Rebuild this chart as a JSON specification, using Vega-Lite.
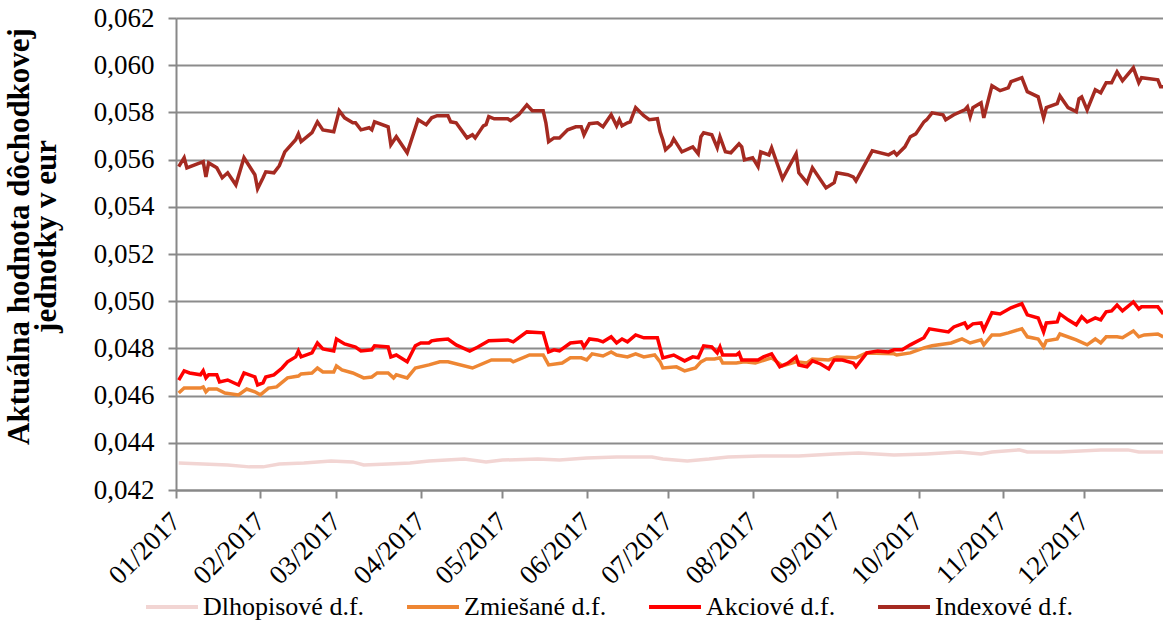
{
  "$schema": "https://vega.github.io/schema/vega-lite/v6.json",
  "width": 990,
  "height": 472,
  "autosize": {"type": "none"},
  "padding": {"left": 176, "top": 18, "right": 0, "bottom": 138},
  "config": {"view": {"stroke": null}, "font": "Liberation Serif"},
  "datasets": {
    "dlh": [
      {"d":"2017-01-02","v":0.04314},{"d":"2017-01-11","v":0.0431},{"d":"2017-01-20","v":0.04306},{"d":"2017-01-28","v":0.04298},{"d":"2017-02-02","v":0.04298},{"d":"2017-02-08","v":0.0431},{"d":"2017-02-17","v":0.04314},{"d":"2017-02-27","v":0.04323},{"d":"2017-03-07","v":0.04319},{"d":"2017-03-11","v":0.04306},{"d":"2017-03-20","v":0.0431},{"d":"2017-03-28","v":0.04314},{"d":"2017-04-04","v":0.04323},{"d":"2017-04-17","v":0.04331},{"d":"2017-04-25","v":0.04319},{"d":"2017-05-01","v":0.04327},{"d":"2017-05-14","v":0.04331},{"d":"2017-05-22","v":0.04327},{"d":"2017-06-01","v":0.04336},{"d":"2017-06-12","v":0.0434},{"d":"2017-06-25","v":0.0434},{"d":"2017-06-29","v":0.04331},{"d":"2017-07-08","v":0.04323},{"d":"2017-07-16","v":0.04331},{"d":"2017-07-23","v":0.0434},{"d":"2017-08-04","v":0.04344},{"d":"2017-08-18","v":0.04344},{"d":"2017-08-31","v":0.04353},{"d":"2017-09-09","v":0.04357},{"d":"2017-09-22","v":0.04348},{"d":"2017-10-04","v":0.04353},{"d":"2017-10-16","v":0.04361},{"d":"2017-10-24","v":0.04353},{"d":"2017-10-28","v":0.04361},{"d":"2017-11-07","v":0.0437},{"d":"2017-11-10","v":0.04361},{"d":"2017-11-22","v":0.04361},{"d":"2017-12-07","v":0.0437},{"d":"2017-12-17","v":0.0437},{"d":"2017-12-21","v":0.04361},{"d":"2017-12-30","v":0.04361}
    ],
    "zmi": [
      {"d":"2017-01-02","v":0.04611},{"d":"2017-01-04","v":0.04632},{"d":"2017-01-10","v":0.04632},{"d":"2017-01-11","v":0.04637},{"d":"2017-01-12","v":0.04616},{"d":"2017-01-13","v":0.04628},{"d":"2017-01-16","v":0.04628},{"d":"2017-01-19","v":0.04611},{"d":"2017-01-24","v":0.04603},{"d":"2017-01-27","v":0.04628},{"d":"2017-01-30","v":0.04616},{"d":"2017-02-01","v":0.04603},{"d":"2017-02-04","v":0.04632},{"d":"2017-02-07","v":0.04637},{"d":"2017-02-11","v":0.04675},{"d":"2017-02-15","v":0.04683},{"d":"2017-02-16","v":0.04692},{"d":"2017-02-20","v":0.04696},{"d":"2017-02-22","v":0.04717},{"d":"2017-02-24","v":0.047},{"d":"2017-02-28","v":0.047},
      {"d":"2017-03-01","v":0.04726},{"d":"2017-03-03","v":0.04709},{"d":"2017-03-07","v":0.04696},{"d":"2017-03-11","v":0.04675},{"d":"2017-03-14","v":0.04679},{"d":"2017-03-16","v":0.04696},{"d":"2017-03-20","v":0.04696},{"d":"2017-03-22","v":0.04675},{"d":"2017-03-23","v":0.04688},{"d":"2017-03-27","v":0.04675},{"d":"2017-03-30","v":0.04717},{"d":"2017-04-04","v":0.0473},{"d":"2017-04-08","v":0.04743},{"d":"2017-04-11","v":0.04743},{"d":"2017-04-20","v":0.04717},{"d":"2017-04-27","v":0.04751},{"d":"2017-05-04","v":0.04751},{"d":"2017-05-05","v":0.04743},{"d":"2017-05-11","v":0.04772},{"d":"2017-05-16","v":0.04772},{"d":"2017-05-18","v":0.0473},{"d":"2017-05-23","v":0.04738},{"d":"2017-05-26","v":0.0476},{"d":"2017-05-30","v":0.0476},
      {"d":"2017-06-01","v":0.04751},{"d":"2017-06-03","v":0.04777},{"d":"2017-06-07","v":0.04768},{"d":"2017-06-10","v":0.04785},{"d":"2017-06-12","v":0.04772},{"d":"2017-06-16","v":0.04764},{"d":"2017-06-19","v":0.04777},{"d":"2017-06-22","v":0.04764},{"d":"2017-06-26","v":0.04772},{"d":"2017-06-28","v":0.04743},{"d":"2017-06-29","v":0.04717},{"d":"2017-07-04","v":0.04722},{"d":"2017-07-07","v":0.04705},{"d":"2017-07-11","v":0.04717},{"d":"2017-07-13","v":0.04743},{"d":"2017-07-15","v":0.04755},{"d":"2017-07-18","v":0.04755},{"d":"2017-07-20","v":0.0476},{"d":"2017-07-21","v":0.04738},{"d":"2017-07-26","v":0.04738},{"d":"2017-07-29","v":0.04743},
      {"d":"2017-08-02","v":0.04738},{"d":"2017-08-08","v":0.0476},{"d":"2017-08-12","v":0.04726},{"d":"2017-08-17","v":0.04743},{"d":"2017-08-21","v":0.04738},{"d":"2017-08-23","v":0.04755},{"d":"2017-08-29","v":0.04751},{"d":"2017-09-01","v":0.04764},{"d":"2017-09-08","v":0.0476},{"d":"2017-09-12","v":0.04781},{"d":"2017-09-22","v":0.04777},{"d":"2017-09-23","v":0.04772},{"d":"2017-09-28","v":0.04781},{"d":"2017-10-03","v":0.04802},{"d":"2017-10-06","v":0.04811},{"d":"2017-10-13","v":0.04823},{"d":"2017-10-17","v":0.0484},{"d":"2017-10-20","v":0.04823},{"d":"2017-10-24","v":0.04836},{"d":"2017-10-25","v":0.04815},{"d":"2017-10-28","v":0.04857},{"d":"2017-10-31","v":0.04857},
      {"d":"2017-11-03","v":0.04866},{"d":"2017-11-08","v":0.04883},{"d":"2017-11-10","v":0.04849},{"d":"2017-11-14","v":0.0484},{"d":"2017-11-16","v":0.04806},{"d":"2017-11-17","v":0.04832},{"d":"2017-11-21","v":0.0484},{"d":"2017-11-22","v":0.04861},{"d":"2017-11-28","v":0.04836},{"d":"2017-12-02","v":0.04815},{"d":"2017-12-05","v":0.0484},{"d":"2017-12-07","v":0.04823},{"d":"2017-12-09","v":0.04849},{"d":"2017-12-13","v":0.04849},{"d":"2017-12-15","v":0.04845},{"d":"2017-12-19","v":0.04874},{"d":"2017-12-21","v":0.04849},{"d":"2017-12-23","v":0.04857},{"d":"2017-12-28","v":0.04861},{"d":"2017-12-30","v":0.04849}
    ],
    "akc": [
      {"d":"2017-01-02","v":0.04666},{"d":"2017-01-04","v":0.04705},{"d":"2017-01-06","v":0.04696},{"d":"2017-01-10","v":0.04688},{"d":"2017-01-11","v":0.04705},{"d":"2017-01-12","v":0.04675},{"d":"2017-01-13","v":0.04688},{"d":"2017-01-16","v":0.04688},{"d":"2017-01-17","v":0.04658},{"d":"2017-01-20","v":0.04666},{"d":"2017-01-24","v":0.04645},{"d":"2017-01-26","v":0.04696},{"d":"2017-01-30","v":0.04679},{"d":"2017-01-31","v":0.04645},
      {"d":"2017-02-02","v":0.04654},{"d":"2017-02-03","v":0.04679},{"d":"2017-02-06","v":0.04688},{"d":"2017-02-09","v":0.04717},{"d":"2017-02-11","v":0.04743},{"d":"2017-02-14","v":0.04764},{"d":"2017-02-15","v":0.04789},{"d":"2017-02-16","v":0.04764},{"d":"2017-02-20","v":0.04781},{"d":"2017-02-22","v":0.04823},{"d":"2017-02-24","v":0.04798},{"d":"2017-02-28","v":0.04789},
      {"d":"2017-03-01","v":0.0484},{"d":"2017-03-04","v":0.04819},{"d":"2017-03-08","v":0.04806},{"d":"2017-03-10","v":0.04789},{"d":"2017-03-14","v":0.04794},{"d":"2017-03-15","v":0.04811},{"d":"2017-03-20","v":0.04806},{"d":"2017-03-21","v":0.04764},{"d":"2017-03-23","v":0.04772},{"d":"2017-03-27","v":0.04743},{"d":"2017-03-30","v":0.04811},
      {"d":"2017-04-01","v":0.04823},{"d":"2017-04-04","v":0.04823},{"d":"2017-04-05","v":0.04832},{"d":"2017-04-07","v":0.04836},{"d":"2017-04-11","v":0.0484},{"d":"2017-04-14","v":0.04815},{"d":"2017-04-19","v":0.04789},{"d":"2017-04-22","v":0.04806},{"d":"2017-04-26","v":0.04832},
      {"d":"2017-05-03","v":0.04836},{"d":"2017-05-05","v":0.04828},{"d":"2017-05-10","v":0.0487},{"d":"2017-05-16","v":0.04866},{"d":"2017-05-18","v":0.04785},{"d":"2017-05-20","v":0.04794},{"d":"2017-05-22","v":0.04789},{"d":"2017-05-26","v":0.04823},{"d":"2017-05-30","v":0.04828},{"d":"2017-05-31","v":0.04806},
      {"d":"2017-06-02","v":0.0484},{"d":"2017-06-05","v":0.04836},{"d":"2017-06-07","v":0.04828},{"d":"2017-06-10","v":0.04849},{"d":"2017-06-12","v":0.04823},{"d":"2017-06-14","v":0.0484},{"d":"2017-06-16","v":0.04828},{"d":"2017-06-19","v":0.04857},{"d":"2017-06-22","v":0.04845},{"d":"2017-06-27","v":0.04845},{"d":"2017-06-28","v":0.04802},{"d":"2017-06-29","v":0.0476},
      {"d":"2017-07-03","v":0.04772},{"d":"2017-07-07","v":0.04747},{"d":"2017-07-10","v":0.04764},{"d":"2017-07-12","v":0.0476},{"d":"2017-07-14","v":0.04811},{"d":"2017-07-17","v":0.04806},{"d":"2017-07-19","v":0.04781},{"d":"2017-07-20","v":0.04806},{"d":"2017-07-21","v":0.04772},{"d":"2017-07-26","v":0.04772},{"d":"2017-07-27","v":0.04781},{"d":"2017-07-28","v":0.04751},
      {"d":"2017-08-03","v":0.04751},{"d":"2017-08-05","v":0.04764},{"d":"2017-08-08","v":0.04777},{"d":"2017-08-11","v":0.04722},{"d":"2017-08-14","v":0.04738},{"d":"2017-08-17","v":0.04764},{"d":"2017-08-18","v":0.0473},{"d":"2017-08-21","v":0.04722},{"d":"2017-08-23","v":0.04747},{"d":"2017-08-26","v":0.04734},{"d":"2017-08-29","v":0.04713},{"d":"2017-08-31","v":0.04751},
      {"d":"2017-09-03","v":0.04751},{"d":"2017-09-07","v":0.04738},{"d":"2017-09-08","v":0.04722},{"d":"2017-09-12","v":0.04781},{"d":"2017-09-16","v":0.04789},{"d":"2017-09-20","v":0.04785},{"d":"2017-09-22","v":0.04794},{"d":"2017-09-25","v":0.04794},{"d":"2017-09-28","v":0.04815},
      {"d":"2017-10-03","v":0.04845},{"d":"2017-10-05","v":0.04883},{"d":"2017-10-12","v":0.0487},{"d":"2017-10-14","v":0.04891},{"d":"2017-10-18","v":0.04908},{"d":"2017-10-19","v":0.04887},{"d":"2017-10-21","v":0.04904},{"d":"2017-10-24","v":0.04908},{"d":"2017-10-25","v":0.04878},{"d":"2017-10-28","v":0.04951},{"d":"2017-10-31","v":0.04946},
      {"d":"2017-11-04","v":0.04972},{"d":"2017-11-08","v":0.04989},{"d":"2017-11-10","v":0.04942},{"d":"2017-11-14","v":0.04929},{"d":"2017-11-16","v":0.0487},{"d":"2017-11-17","v":0.04908},{"d":"2017-11-21","v":0.04912},{"d":"2017-11-22","v":0.04946},{"d":"2017-11-25","v":0.04921},{"d":"2017-11-28","v":0.049},{"d":"2017-11-30","v":0.04934},
      {"d":"2017-12-02","v":0.04912},{"d":"2017-12-05","v":0.04929},{"d":"2017-12-07","v":0.04921},{"d":"2017-12-09","v":0.04955},{"d":"2017-12-11","v":0.04959},{"d":"2017-12-13","v":0.04984},{"d":"2017-12-15","v":0.04959},{"d":"2017-12-19","v":0.04997},{"d":"2017-12-21","v":0.04967},{"d":"2017-12-22","v":0.04976},{"d":"2017-12-28","v":0.04976},{"d":"2017-12-30","v":0.04946}
    ],
    "idx": [
      {"d":"2017-01-02","v":0.0557},{"d":"2017-01-04","v":0.05608},{"d":"2017-01-05","v":0.05565},{"d":"2017-01-11","v":0.05591},{"d":"2017-01-12","v":0.05527},{"d":"2017-01-13","v":0.05586},{"d":"2017-01-16","v":0.05565},{"d":"2017-01-18","v":0.05523},{"d":"2017-01-20","v":0.05544},{"d":"2017-01-23","v":0.05493},{"d":"2017-01-26","v":0.05608},{"d":"2017-01-30","v":0.05536},{"d":"2017-01-31","v":0.05476},
      {"d":"2017-02-02","v":0.05523},{"d":"2017-02-03","v":0.05548},{"d":"2017-02-06","v":0.05544},{"d":"2017-02-08","v":0.05574},{"d":"2017-02-10","v":0.05633},{"d":"2017-02-14","v":0.05684},{"d":"2017-02-15","v":0.05709},{"d":"2017-02-16","v":0.05676},{"d":"2017-02-20","v":0.05714},{"d":"2017-02-22","v":0.0576},{"d":"2017-02-24","v":0.05726},{"d":"2017-02-28","v":0.05718},
      {"d":"2017-03-02","v":0.05807},{"d":"2017-03-04","v":0.05777},{"d":"2017-03-07","v":0.05756},{"d":"2017-03-08","v":0.05756},{"d":"2017-03-10","v":0.05726},{"d":"2017-03-13","v":0.05735},{"d":"2017-03-14","v":0.05726},{"d":"2017-03-15","v":0.0576},{"d":"2017-03-20","v":0.05739},{"d":"2017-03-21","v":0.05663},{"d":"2017-03-23","v":0.05697},{"d":"2017-03-27","v":0.05629},{"d":"2017-03-31","v":0.05769},
      {"d":"2017-04-03","v":0.05748},{"d":"2017-04-05","v":0.05777},{"d":"2017-04-07","v":0.05786},{"d":"2017-04-11","v":0.05786},{"d":"2017-04-12","v":0.0576},{"d":"2017-04-14","v":0.05756},{"d":"2017-04-18","v":0.05692},{"d":"2017-04-20","v":0.05705},{"d":"2017-04-21","v":0.05692},{"d":"2017-04-23","v":0.05726},{"d":"2017-04-24","v":0.05743},{"d":"2017-04-25","v":0.05748},{"d":"2017-04-26","v":0.05782},{"d":"2017-04-28","v":0.05773},
      {"d":"2017-05-03","v":0.05773},{"d":"2017-05-04","v":0.05765},{"d":"2017-05-07","v":0.0579},{"d":"2017-05-10","v":0.05832},{"d":"2017-05-12","v":0.05807},{"d":"2017-05-16","v":0.05807},{"d":"2017-05-17","v":0.05756},{"d":"2017-05-18","v":0.05676},{"d":"2017-05-20","v":0.05692},{"d":"2017-05-22","v":0.05692},{"d":"2017-05-25","v":0.05726},{"d":"2017-05-28","v":0.05739},{"d":"2017-05-30","v":0.05739},{"d":"2017-05-31","v":0.05705},
      {"d":"2017-06-02","v":0.05752},{"d":"2017-06-05","v":0.05756},{"d":"2017-06-07","v":0.05739},{"d":"2017-06-10","v":0.0579},{"d":"2017-06-12","v":0.05743},{"d":"2017-06-13","v":0.05769},{"d":"2017-06-14","v":0.05743},{"d":"2017-06-16","v":0.05756},{"d":"2017-06-17","v":0.0576},{"d":"2017-06-19","v":0.0582},{"d":"2017-06-22","v":0.05786},{"d":"2017-06-24","v":0.05769},{"d":"2017-06-27","v":0.05773},{"d":"2017-06-28","v":0.05718},{"d":"2017-06-29","v":0.05684},{"d":"2017-06-30","v":0.05642},
      {"d":"2017-07-02","v":0.05663},{"d":"2017-07-03","v":0.05688},{"d":"2017-07-06","v":0.05633},{"d":"2017-07-10","v":0.05654},{"d":"2017-07-12","v":0.05625},{"d":"2017-07-13","v":0.05697},{"d":"2017-07-14","v":0.05714},{"d":"2017-07-17","v":0.05705},{"d":"2017-07-19","v":0.0565},{"d":"2017-07-20","v":0.05697},{"d":"2017-07-22","v":0.05633},{"d":"2017-07-24","v":0.05629},{"d":"2017-07-27","v":0.05667},{"d":"2017-07-28","v":0.05654},{"d":"2017-07-29","v":0.05599},
      {"d":"2017-08-01","v":0.05608},{"d":"2017-08-03","v":0.0557},{"d":"2017-08-04","v":0.05633},{"d":"2017-08-07","v":0.0562},{"d":"2017-08-08","v":0.0565},{"d":"2017-08-12","v":0.05519},{"d":"2017-08-17","v":0.05625},{"d":"2017-08-18","v":0.05544},{"d":"2017-08-21","v":0.05502},{"d":"2017-08-23","v":0.05565},{"d":"2017-08-28","v":0.0548},{"d":"2017-08-31","v":0.05502},
      {"d":"2017-09-01","v":0.05544},{"d":"2017-09-05","v":0.05536},{"d":"2017-09-07","v":0.05527},{"d":"2017-09-08","v":0.0551},{"d":"2017-09-14","v":0.05637},{"d":"2017-09-20","v":0.0562},{"d":"2017-09-22","v":0.05633},{"d":"2017-09-23","v":0.0562},{"d":"2017-09-26","v":0.05654},{"d":"2017-09-28","v":0.05697},{"d":"2017-09-30","v":0.05709},
      {"d":"2017-10-03","v":0.0576},{"d":"2017-10-04","v":0.05769},{"d":"2017-10-06","v":0.05798},{"d":"2017-10-10","v":0.0579},{"d":"2017-10-11","v":0.05769},{"d":"2017-10-14","v":0.0579},{"d":"2017-10-18","v":0.05811},{"d":"2017-10-19","v":0.05824},{"d":"2017-10-20","v":0.05782},{"d":"2017-10-21","v":0.0582},{"d":"2017-10-24","v":0.05841},{"d":"2017-10-25","v":0.05777},{"d":"2017-10-28","v":0.05913},{"d":"2017-10-31","v":0.05892},
      {"d":"2017-11-03","v":0.05904},{"d":"2017-11-04","v":0.0593},{"d":"2017-11-08","v":0.05947},{"d":"2017-11-10","v":0.05888},{"d":"2017-11-14","v":0.05866},{"d":"2017-11-16","v":0.05777},{"d":"2017-11-17","v":0.0582},{"d":"2017-11-21","v":0.05837},{"d":"2017-11-22","v":0.0587},{"d":"2017-11-25","v":0.0582},{"d":"2017-11-28","v":0.05803},{"d":"2017-11-29","v":0.05858},{"d":"2017-11-30","v":0.05866},
      {"d":"2017-12-02","v":0.05811},{"d":"2017-12-05","v":0.05896},{"d":"2017-12-07","v":0.05883},{"d":"2017-12-09","v":0.05926},{"d":"2017-12-11","v":0.05926},{"d":"2017-12-13","v":0.05972},{"d":"2017-12-15","v":0.05934},{"d":"2017-12-19","v":0.05989},{"d":"2017-12-21","v":0.05926},{"d":"2017-12-22","v":0.05947},{"d":"2017-12-28","v":0.05938},{"d":"2017-12-29","v":0.05909},{"d":"2017-12-30","v":0.05909}
    ]
  },
  "encoding": {
    "x": {
      "field": "d", "type": "temporal",
      "scale": {"type": "utc", "domain": [{"year": 2017, "month": 1, "date": 1, "utc": true}, {"year": 2017, "month": 12, "date": 31, "utc": true}]},
      "axis": {
        "title": null,
        "values": [
          {"year": 2017, "month": 1, "date": 1, "utc": true},
          {"year": 2017, "month": 2, "date": 1, "utc": true},
          {"year": 2017, "month": 3, "date": 1, "utc": true},
          {"year": 2017, "month": 4, "date": 1, "utc": true},
          {"year": 2017, "month": 5, "date": 1, "utc": true},
          {"year": 2017, "month": 6, "date": 1, "utc": true},
          {"year": 2017, "month": 7, "date": 1, "utc": true},
          {"year": 2017, "month": 8, "date": 1, "utc": true},
          {"year": 2017, "month": 9, "date": 1, "utc": true},
          {"year": 2017, "month": 10, "date": 1, "utc": true},
          {"year": 2017, "month": 11, "date": 1, "utc": true},
          {"year": 2017, "month": 12, "date": 1, "utc": true}
        ],
        "labelExpr": "utcFormat(datum.value, '%m/%Y')",
        "labelAngle": -45, "labelAlign": "right", "labelBaseline": "middle",
        "labelFontSize": 27, "labelColor": "#000000", "labelPadding": 19,
        "labelOverlap": false, "labelFlush": false,
        "tickSize": 8, "tickColor": "#888888", "tickWidth": 2,
        "domainColor": "#888888", "domainWidth": 2, "grid": false
      }
    },
    "y": {
      "field": "v", "type": "quantitative",
      "scale": {"domain": [0.042, 0.062], "nice": false, "zero": false},
      "axis": {
        "values": [0.042, 0.044, 0.046, 0.048, 0.05, 0.052, 0.054, 0.056, 0.058, 0.06, 0.062],
        "labelExpr": "replace(format(datum.value, '.3f'), '.', ',')",
        "labelFontSize": 27, "labelColor": "#000000", "labelPadding": 14,
        "tickSize": 8, "tickColor": "#888888", "tickWidth": 2,
        "domainColor": "#888888", "domainWidth": 2,
        "grid": true, "gridColor": "#8c8c8c", "gridWidth": 2,
        "title": ["Aktuálna hodnota dôchodkovej", "jednotky v eur"],
        "titleFontSize": 31, "titleFontWeight": "bold", "titleColor": "#000000",
        "titleAngle": -90, "titleAlign": "center", "titleBaseline": "top",
        "titleX": -172, "titleY": 218, "titleLineHeight": 27
      }
    },
    "color": {
      "scale": {
        "domain": ["Dlhopisové d.f.", "Zmiešané d.f.", "Akciové d.f.", "Indexové d.f."],
        "range": ["#F2D5D3", "#EE8633", "#FF0000", "#A52A21"]
      },
      "legend": {
        "orient": "none", "legendX": -32, "legendY": 561, "direction": "horizontal",
        "title": null, "labelFontSize": 26, "labelColor": "#000000", "labelLimit": 400,
        "symbolType": "stroke", "symbolStrokeWidth": 4, "symbolSize": 2700,
        "columnPadding": 34, "labelOffset": 3
      }
    }
  },
  "layer": [
    {"data": {"name": "dlh"}, "mark": {"type": "line", "strokeWidth": 3.5}, "encoding": {"color": {"datum": "Dlhopisové d.f."}}},
    {"data": {"name": "zmi"}, "mark": {"type": "line", "strokeWidth": 3.5}, "encoding": {"color": {"datum": "Zmiešané d.f."}}},
    {"data": {"name": "akc"}, "mark": {"type": "line", "strokeWidth": 3.5}, "encoding": {"color": {"datum": "Akciové d.f."}}},
    {"data": {"name": "idx"}, "mark": {"type": "line", "strokeWidth": 3.5}, "encoding": {"color": {"datum": "Indexové d.f."}}}
  ]
}
